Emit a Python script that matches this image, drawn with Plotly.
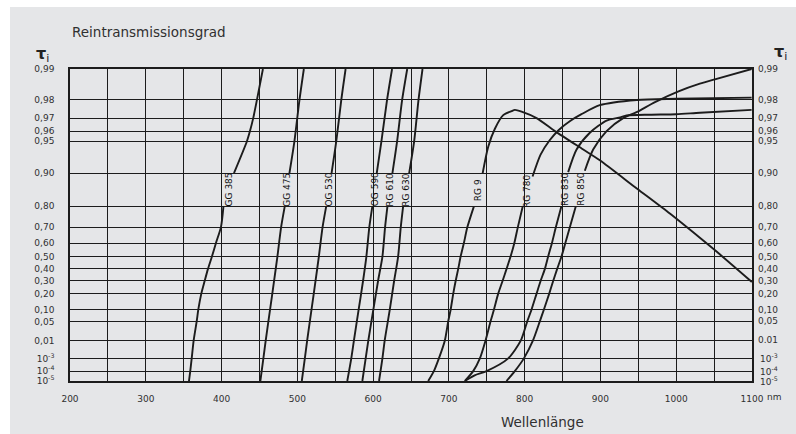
import math
import plotly.graph_objects as go

# Reintransmissionsgrad tau_i über Wellenlänge (nm); None = Lücke für die Beschriftung
steep_tau = [1e-5, 1e-3, 0.01, 0.10, 0.30, 0.50, 0.70, 0.80, None, 0.90, 0.95, 0.98, 0.99]

gg385_nm = [357.0, 358.7, 360.6, 363.2, 367.2, 369.3, 373.2, 377.7, 382.1, 387.3, 392.6, 399.2, 402.5,
            None, 416.4, 433.5, 437.5, 441.8, 446.7, 454.6]
gg385_tau = [1e-5, 1e-4, 1e-3, 0.01, 0.05, 0.10, 0.20, 0.30, 0.40, 0.50, 0.60, 0.70, 0.80,
             None, 0.90, 0.95, 0.96, 0.97, 0.98, 0.99]

gg475_nm = [451.2, 455.2, 458.3, 464.0, 469.3, 473.7, 478.6, 483.4, None, 489.6, 496.2, 502.8, 508.6]
og530_nm = [505.9, 509.9, 513.0, 518.7, 524.0, 528.4, 533.3, 538.1, None, 545.2, 551.4, 558.0, 563.7]
og590_nm = [565.9, 571.2, 574.7, 580.9, 586.7, 591.1, 595.0, 599.0, None, 604.8, 611.0, 618.4, 625.0]
rg610_nm = [585.8, 590.2, 593.7, 600.3, 606.5, 612.3, 615.8, 618.9, None, 625.5, 631.7, 638.3, 645.0]
rg630_nm = [607.8, 612.3, 615.3, 622.0, 627.7, 633.0, 636.5, 639.6, None, 647.6, 654.2, 659.9, 665.2]

rg9_nm = [672.7, 680.2, 686.8, 694.7, 699.1, 702.3, 705.7, 708.9, 712.3, 715.5, 719.8, 724.4, 733.0,
          None, 744.5, 751.9, 760.7, 771.7, 782.7, 787.1, 795.9, 815.7, 839.9, 876.8, 899.2,
          948.0, 991.6, 1031.2, 1053.6, 1099.8]
rg9_tau = [1e-5, 1e-4, 1e-3, 0.01, 0.05, 0.10, 0.20, 0.30, 0.40, 0.50, 0.60, 0.70, 0.80,
           None, 0.899, 0.9435, 0.962, 0.9719, 0.9743, 0.975, 0.974, 0.970, 0.960, 0.9403, 0.9241,
           0.8613, 0.7688, 0.6352, 0.5364, 0.2918]

rg780_nm = [721.1, 732.1, 740.9, 748.4, 755.0, 759.4, 765.0, 770.8, 776.1, 781.4, 786.4, 791.0, 797.5,
            None, 810.4, 821.0, 833.0, 845.0, 860.0, 875.0, 899.0, 948.0, 1000.0, 1099.5]
rg780_tau = [1e-5, 1e-4, 1e-3, 0.01, 0.05, 0.10, 0.20, 0.30, 0.40, 0.50, 0.60, 0.70, 0.80,
             None, 0.8925, 0.933, 0.951, 0.961, 0.968, 0.9725, 0.9775, 0.980, 0.9805, 0.981]

rg830_nm = [721.1, 734.0, 749.7, 778.3, 795.0, 803.4, 809.0, 815.6, 821.0, 826.7, 831.0, 836.0, 841.2, 848.5,
            None, 857.4, 868.5, 886.0, 908.1, 926.0, 934.5, 965.2, 1000.0, 1031.2, 1099.5]
rg830_tau = [1e-5, 4e-5, 1e-4, 1e-3, 0.01, 0.05, 0.10, 0.20, 0.30, 0.40, 0.50, 0.60, 0.70, 0.80,
             None, 0.902, 0.940, 0.9585, 0.9683, 0.9705, 0.9717, 0.9722, 0.9725, 0.9734, 0.975]

rg850_nm = [776.0, 787.0, 799.0, 811.0, 820.0, 825.3, 832.3, 837.6, 842.9, 848.6, 853.7, 859.7, 867.5,
            None, 879.4, 890.4, 908.1, 930.0, 947.6, 972.0, 1003.0, 1031.2, 1051.0, 1099.5]
rg850_tau = [1e-5, 1e-4, 1e-3, 0.01, 0.05, 0.10, 0.20, 0.30, 0.40, 0.50, 0.60, 0.70, 0.80,
             None, 0.905, 0.940, 0.960, 0.970, 0.9737, 0.979, 0.9835, 0.9861, 0.9874, 0.990]

filters = [
    ("GG 385", gg385_nm, gg385_tau),
    ("GG 475", gg475_nm, steep_tau),
    ("OG 530", og530_nm, steep_tau),
    ("OG 590", og590_nm, steep_tau),
    ("RG 610", rg610_nm, steep_tau),
    ("RG 630", rg630_nm, steep_tau),
    ("RG 9", rg9_nm, rg9_tau),
    ("RG 780", rg780_nm, rg780_tau),
    ("RG 830", rg830_nm, rg830_tau),
    ("RG 850", rg850_nm, rg850_tau),
]

wl_ticks = list(range(200, 1101, 50))
wl_labels = ["200", "", "300", "", "400", "", "500", "", "600", "", "700", "", "800", "", "900", "",
             "1000", "", "1100"]

tau_ticks = [0.99, 0.98, 0.97, 0.96, 0.95, 0.90, 0.80, 0.70, 0.60, 0.50, 0.40, 0.30, 0.20, 0.10, 0.05,
             0.01, 1e-3, 1e-4, 1e-5]
tau_labels_left = ["0,99", "0,98", "0,97", "0,96", "0,95", "0,90", "0,80", "0,70", "0,60", "0,50", "0,40",
                   "0,30", "0,20", "0,10", "0,05", "0,01", "10<sup>-3</sup>", "10<sup>-4</sup>", "10<sup>-5</sup>"]
tau_labels_right = ["0,99", "0,98", "0,97", "0,96", "0,95", "0,90", "0,80", "0,70", "0,60", "0,50", "0,40",
                    "0,30", "0,20", "0,10", "0,05", "0.01", "10<sup>-3</sup>", "10<sup>-4</sup>", "10<sup>-5</sup>"]


def od(t):
    # Ordinate: log(log(1/tau)) -> log-Achse über -log10(tau)
    return None if t is None else -math.log10(t)


BG = "#e5e6e8"
INK = "#1c1c1c"
TXT = "#303030"
FONT = "DejaVu Sans"

fig = go.Figure()
for name, nm, tau in filters:
    fig.add_trace(go.Scatter(x=nm, y=[od(t) for t in tau], mode="lines",
                             line=dict(color=INK, width=1.9, shape="spline", smoothing=0.7),
                             hoverinfo="skip", showlegend=False))
    i = nm.index(None)
    lx = (nm[i - 1] + nm[i + 1]) / 2
    ly = (math.log10(od(tau[i - 1])) + math.log10(od(tau[i + 1]))) / 2
    fig.add_annotation(x=lx, y=ly, text=name, textangle=-90, showarrow=False,
                       xanchor="center", yanchor="middle",
                       font=dict(size=9, color="#111", family=FONT))

# rechte Skala
for t, lab in zip(tau_ticks, tau_labels_right):
    fig.add_annotation(xref="paper", x=1.041, xanchor="right", yref="y", y=math.log10(od(t)),
                       yanchor="middle", text=lab, showarrow=False,
                       font=dict(size=9, color=TXT, family=FONT))

fig.add_annotation(xref="paper", yref="paper", x=0, y=1.1186, xanchor="left", yanchor="middle",
                   text="Reintransmissionsgrad", showarrow=False,
                   font=dict(size=13.5, color=TXT, family=FONT))
fig.add_annotation(xref="paper", yref="paper", x=-0.04, y=1.045, xanchor="center", yanchor="middle",
                   text="<b>τ</b><sub>i</sub>", showarrow=False,
                   font=dict(size=16, color="#222", family=FONT))
fig.add_annotation(xref="paper", yref="paper", x=1.042, y=1.054, xanchor="center", yanchor="middle",
                   text="<b>τ</b><sub>i</sub>", showarrow=False,
                   font=dict(size=16, color="#222", family=FONT))
fig.add_annotation(xref="paper", yref="paper", x=0.6928, y=-0.1314, xanchor="center", yanchor="middle",
                   text="Wellenlänge", showarrow=False,
                   font=dict(size=13.5, color=TXT, family=FONT))
fig.add_annotation(xref="paper", yref="paper", x=1.019, y=-0.052, xanchor="left", yanchor="middle",
                   text="nm", showarrow=False, font=dict(size=9, color=TXT, family=FONT))

fig.add_shape(type="rect", xref="paper", yref="paper", x0=-0.088, x1=1.2, y0=-0.4, y1=1.1987,
              fillcolor=BG, line_width=0, layer="below")

fig.update_xaxes(range=[200, 1100], tickmode="array", tickvals=wl_ticks, ticktext=wl_labels,
                 showgrid=True, gridcolor=INK, gridwidth=1.4, zeroline=False,
                 showline=True, mirror=True, linecolor=INK, linewidth=1.6, ticks="",
                 ticklabelstandoff=8, tickfont=dict(size=9, color=TXT, family=FONT))
fig.update_yaxes(type="log", range=[math.log10(od(1e-5)), math.log10(od(0.99))],
                 tickmode="array", tickvals=[od(t) for t in tau_ticks], ticktext=tau_labels_left,
                 showgrid=True, gridcolor=INK, gridwidth=1.4, zeroline=False,
                 showline=True, mirror=True, linecolor=INK, linewidth=1.6, ticks="",
                 ticklabelstandoff=12, tickfont=dict(size=9, color=TXT, family=FONT))

fig.update_layout(width=796, height=434, margin=dict(l=70, r=44, t=69, b=53),
                  paper_bgcolor="white", plot_bgcolor=BG, showlegend=False)

fig.write_html("out.html", config={"displayModeBar": False},
               post_script="document.body.style.margin='0';")
